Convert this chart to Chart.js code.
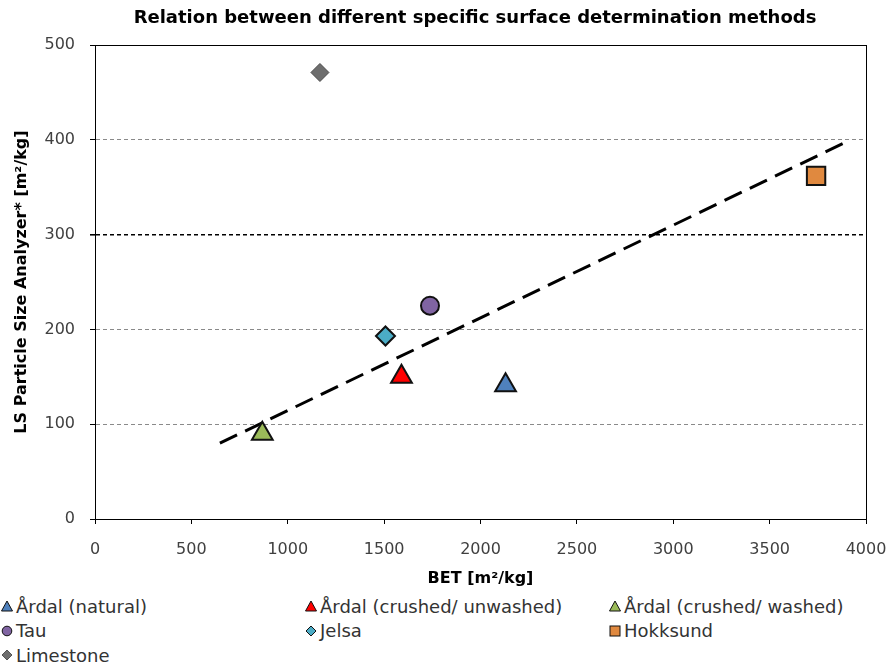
<!DOCTYPE html>
<html>
<head>
<meta charset="utf-8">
<script src="https://cdn.jsdelivr.net/npm/chart.js@4.4.1/dist/chart.umd.min.js"></script>
<style>
  html, body { margin: 0; padding: 0; background: #fff; }
  #wrap { position: relative; width: 887px; height: 595px; }
  #legend {
    display: grid;
    grid-template-columns: 304px 304px 279px;
    grid-auto-rows: 24.5px;
    margin-top: -1px;
    font-family: "DejaVu Sans", sans-serif;
    font-size: 18px;
    color: #333;
  }
  #legend div { display: flex; align-items: center; white-space: nowrap; }
  #legend svg { margin: 0 3px 0 1px; }
</style>
</head>
<body>
<div id="wrap"><canvas id="chart" width="887" height="595"></canvas></div>
<div id="legend"></div>
<script>
// Datos
const seriesNames = ['Årdal (natural)', 'Årdal (crushed/ unwashed)', 'Årdal (crushed/ washed)', 'Tau', 'Jelsa', 'Hokksund', 'Limestone'];
const betValues = [2130, 1590, 868, 1738, 1507, 3741, 1167];
const lsValues = [141, 150, 90, 225, 193, 362, 471];
const seriesColors = ['#4F81BD', '#FF0000', '#9BBB59', '#8064A2', '#4BACC6', '#E0893F', '#6E6E6E'];
const seriesShapes = ['triangle', 'triangle', 'triangle', 'circle', 'rectRot', 'rect', 'rectRot'];
const seriesSizes = [12, 12, 12, 9, 9.5, 13, 9];

// Línea de tendencia (extremos)
const trendX = [648, 3890];
const trendY = [80, 397];

const xTicks = [0, 500, 1000, 1500, 2000, 2500, 3000, 3500, 4000];
const yTicks = [0, 100, 200, 300, 400, 500];

const FONT = '"DejaVu Sans", sans-serif';

const datasets = seriesNames.map((name, i) => ({
    label: name,
    data: [{ x: betValues[i], y: lsValues[i] }],
    pointStyle: seriesShapes[i],
    pointRadius: seriesSizes[i],
    pointHoverRadius: seriesSizes[i],
    backgroundColor: seriesColors[i],
    borderColor: i === 6 ? '#4a4a4a' : '#111',
    pointBorderWidth: i === 6 ? 1 : 2,
    showLine: false
}));

datasets.push({
    label: 'trend',
    data: trendX.map((x, i) => ({ x: x, y: trendY[i] })),
    showLine: true,
    borderColor: '#000',
    borderWidth: 3,
    borderDash: [19, 9],
    pointRadius: 0,
    fill: false
});

// Título y marco del área
const framePlugin = {
    id: 'frame',
    afterDraw(chart) {
        const { ctx, chartArea: a } = chart;
        ctx.save();
        ctx.strokeStyle = '#000';
        ctx.lineWidth = 1;
        ctx.strokeRect(a.left + 0.5, a.top + 0.5, a.right - a.left, a.bottom - a.top);
        ctx.fillStyle = '#000';
        ctx.font = 'bold 18px ' + FONT;
        ctx.textAlign = 'center';
        ctx.textBaseline = 'middle';
        ctx.fillText('Relation between different specific surface determination methods', 475, 18);
        ctx.restore();
    }
};

new Chart(document.getElementById('chart'), {
    type: 'scatter',
    data: { datasets: datasets },
    plugins: [framePlugin],
    options: {
        responsive: false,
        animation: false,
        layout: { padding: { top: 45, right: 21, left: 0, bottom: 0 } },
        plugins: {
            legend: { display: false },
            tooltip: { enabled: false }
        },
        scales: {
            x: {
                type: 'linear',
                min: 0,
                max: 4000,
                afterFit: s => { s.height = 76; s.paddingLeft = 0; s.paddingRight = 0; },
                afterBuildTicks: s => { s.ticks = xTicks.map(v => ({ value: v })); },
                grid: { drawOnChartArea: false, tickLength: 5, tickColor: '#000' },
                border: { color: '#000' },
                ticks: { color: '#404040', padding: 16, font: { family: FONT, size: 16 }, maxRotation: 0, callback: v => String(v) },
                title: {
                    display: true,
                    text: 'BET [m²/kg]',
                    color: '#000',
                    font: { family: FONT, size: 16, weight: 'bold' },
                    padding: { top: 0, bottom: 7 }
                }
            },
            y: {
                min: 0,
                max: 500,
                afterFit: s => { s.width = 95; s.paddingTop = 0; s.paddingBottom = 0; },
                afterBuildTicks: s => { s.ticks = yTicks.map(v => ({ value: v })); },
                grid: {
                    tickLength: 5,
                    tickColor: '#000',
                    color: c => (c.tick && c.tick.value === 300) ? '#000' : ((c.tick && (c.tick.value === 0 || c.tick.value === 500)) ? 'rgba(0,0,0,0)' : '#8a8a8a'),
                    lineWidth: c => (c.tick && c.tick.value === 300) ? 1.6 : 1
                },
                border: { color: '#000', dash: [4, 3] },
                ticks: { color: '#404040', padding: 15, font: { family: FONT, size: 16 }, callback: v => String(v) },
                title: {
                    display: true,
                    text: 'LS Particle Size Analyzer* [m²/kg]',
                    color: '#000',
                    font: { family: FONT, size: 16, weight: 'bold' },
                    padding: { top: 12, bottom: 0 }
                }
            }
        }
    }
});

// Leyenda en HTML
function markerSvg(shape, color, border) {
    let s;
    if (shape === 'triangle') s = '<polygon points="6,1 11.5,11 0.5,11" />';
    else if (shape === 'circle') s = '<circle cx="6" cy="6" r="4.8" />';
    else if (shape === 'rectRot') s = '<polygon points="6,1 11,6 6,11 1,6" />';
    else s = '<rect x="1" y="1" width="10" height="10" />';
    return '<svg width="12" height="12" viewBox="0 0 12 12"><g fill="' + color + '" stroke="' + border + '" stroke-width="1">' + s + '</g></svg>';
}
const legendEl = document.getElementById('legend');
seriesNames.forEach((name, i) => {
    const d = document.createElement('div');
    d.innerHTML = markerSvg(seriesShapes[i], seriesColors[i], i === 6 ? '#555' : '#111') + '<span>' + name + '</span>';
    legendEl.appendChild(d);
});
</script>
</body>
</html>
